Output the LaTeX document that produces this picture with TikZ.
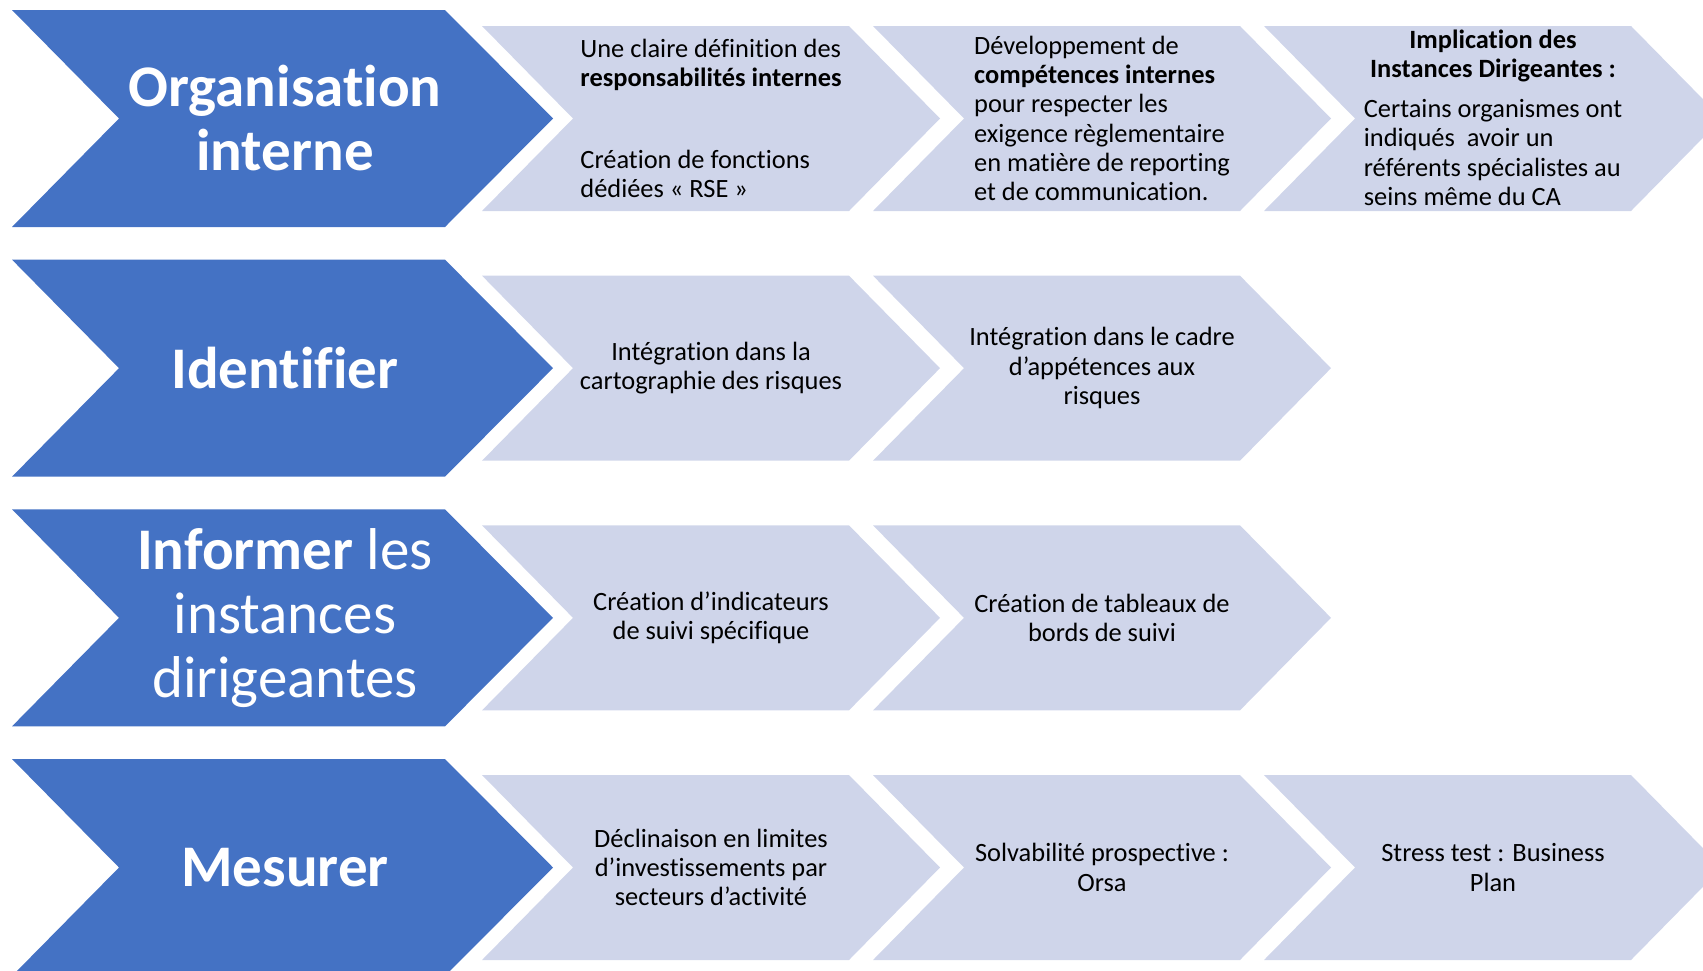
\documentclass[tikz,border=0pt]{standalone}
\usepackage{fontspec}
\setmainfont{Carlito}[Ligatures=NoCommon]
\definecolor{dblue}{HTML}{4472C4}
\definecolor{lblue}{HTML}{CFD5EA}
\newcommand\bigchev[1]{\fill[dblue] (12,#1) -- (445,#1) -- (553,#1+108.5) -- (445,#1+217) -- (12,#1+217) -- (119,#1+108.5) -- cycle;}
\newcommand\lightchev[2]{\fill[lblue] (#1,#2+16) -- ++(367,0) -- ++(91,92.5) -- ++(-91,92.5) -- ++(-367,0) -- ++(91,-92.5) -- cycle;}
\begin{document}
\begin{tikzpicture}[x=0.5pt,y=-0.5pt,
  bigtxt/.style={text=white,font=\fontsize{29.5}{32}\selectfont\bfseries,align=center,inner sep=0pt},
  smalltxt/.style={text=black,font=\fontsize{13.2}{14.65}\selectfont,align=center,inner sep=0pt},
  lefttxt/.style={smalltxt,align=left}]
\useasboundingbox (0,0) rectangle (1703,970);
\clip (0,0) rectangle (1703,970);
% row tops: 10, 259.67, 509.33, 759
\bigchev{10}
\bigchev{259.67}
\bigchev{509.33}
\bigchev{759}
\foreach \t in {10,259.67,509.33,759}{
  \lightchev{482}{\t}
  \lightchev{873}{\t}
}
\lightchev{1264}{10}
\lightchev{1264}{759}
% big labels
\node[bigtxt] (org) at (285,118.5) {Organisation\\interne};
\node[bigtxt] (ide) at (285,368.2) {Identifier};
\node[bigtxt] (inf) at (285,617.8) {Informer {\mdseries les}\\{\mdseries instances}\\{\mdseries dirigeantes}};
\node[bigtxt] (mes) at (285,867.5) {Mesurer};
% row 1
\node[lefttxt] (a1) at (711,118.5) {Une claire définition des\\\textbf{responsabilités internes}\\[26.35pt]Création de fonctions\\dédiées « RSE »};
\node[lefttxt] (a2) at (1102,118.5) {Développement de\\\textbf{compétences internes}\\pour respecter les\\exigence règlementaire\\en matière de reporting\\et de communication.};
\node[smalltxt] (a3) at (1493,122) {\textbf{Implication des}\\\textbf{Instances Dirigeantes :}\\[5.45pt]\begin{tabular}[t]{@{}l@{}}Certains organismes ont\\indiqués~ avoir un\\référents spécialistes au\\seins même du CA\end{tabular}};
% row 2
\node[smalltxt] (b1) at (711,368.2) {Intégration dans la\\cartographie des risques};
\node[smalltxt] (b2) at (1102,368.2) {Intégration dans le cadre\\d’appétences aux\\risques};
% row 3
\node[smalltxt] (c1) at (711,617.8) {Création d’indicateurs\\de suivi spécifique};
\node[smalltxt] (c2) at (1102,617.8) {Création de tableaux de\\bords de suivi};
% row 4
\node[smalltxt] (d1) at (711,867.5) {Déclinaison en limites\\d’investissements par\\secteurs d’activité};
\node[smalltxt] (d2) at (1102,867.5) {Solvabilité prospective :\\Orsa};
\node[smalltxt] (d3) at (1493,867.5) {Stress test : Business\\Plan};
\end{tikzpicture}
\end{document}
